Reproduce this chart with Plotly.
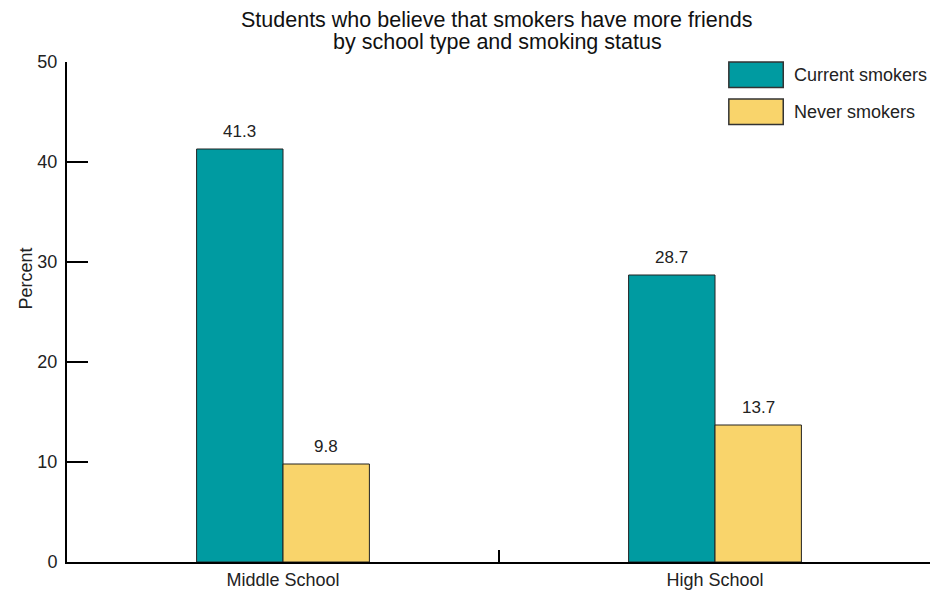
import plotly.graph_objects as go

categories = ["Middle School", "High School"]
series_names = ["Current smokers", "Never smokers"]
current_smokers = [41.3, 28.7]
never_smokers = [9.8, 13.7]
colors = ["#009BA1", "#F9D46B"]
y_ticks = [0, 10, 20, 30, 40, 50]
title_lines = ["Students who believe that smokers have more friends",
               "by school type and smoking status"]

FONT = "Liberation Sans, Arial, sans-serif"
xpos = list(range(len(categories)))
BARGAP = 0.6
n_series = len(series_names)
bar_w = (1 - BARGAP) / n_series

fig = go.Figure()
for s, (name, vals, col) in enumerate(zip(series_names, [current_smokers, never_smokers], colors)):
    fig.add_trace(go.Bar(
        x=xpos, y=vals, name=name,
        marker=dict(color=col, line=dict(color="#222222", width=1)),
        showlegend=False,
    ))
    offset = (s - (n_series - 1) / 2) * bar_w
    for xi, v in zip(xpos, vals):
        fig.add_annotation(x=xi + offset, y=v, text=f"{v:.1f}", xref="x", yref="y",
                           yanchor="bottom", yshift=6, showarrow=False,
                           font=dict(size=17, family=FONT, color="#222222"))

fig.update_layout(
    width=930, height=582,
    margin=dict(l=59, r=7, t=54, b=28),
    paper_bgcolor="white", plot_bgcolor="white",
    barmode="group", bargap=BARGAP, bargroupgap=0,
    font=dict(family=FONT, size=18, color="#222222"),
    xaxis=dict(range=[-0.5, len(categories) - 0.5], tickvals=xpos, ticktext=categories,
               showline=True, linecolor="black", linewidth=2, ticks="",
               showgrid=False, zeroline=False, tickfont=dict(size=18),
               automargin=False),
    yaxis=dict(range=[0, 50], tickvals=y_ticks, ticks="inside", ticklen=21,
               tickwidth=2, tickcolor="black", showline=True, linecolor="black",
               linewidth=2, showgrid=False, zeroline=False, tickfont=dict(size=18),
               ticklabelstandoff=4, automargin=False),
)

# category-boundary tick marks on the x axis (paper coords, not clipped)
n_cat = len(categories)
for i in xpos:
    px = (i + 1) / n_cat
    fig.add_shape(type="line", xref="paper", yref="paper", x0=px, x1=px,
                  y0=-0.002, y1=0.024, line=dict(color="black", width=2))

# title (two lines, tight spacing)
for i, line in enumerate(title_lines):
    fig.add_annotation(text=line, xref="paper", yref="paper", x=0.498,
                       y=1.084 - i * 0.045, xanchor="center", yanchor="middle",
                       showarrow=False, font=dict(size=21.5, family=FONT, color="#111111"))

# y-axis title
fig.add_annotation(text="Percent", xref="paper", yref="paper", x=-0.048, y=0.566,
                   xanchor="center", yanchor="middle", textangle=-90, showarrow=False,
                   font=dict(size=18, family=FONT, color="#222222"))

# custom legend (large swatches)
for i, (name, col) in enumerate(zip(series_names, colors)):
    y0 = 1.0 - i * 0.074
    fig.add_shape(type="rect", xref="paper", yref="paper",
                  x0=0.766, x1=0.829, y0=y0 - 0.051, y1=y0,
                  fillcolor=col, line=dict(color="#333333", width=1.5))
    fig.add_annotation(text=name, xref="paper", yref="paper", x=0.839, y=y0 - 0.026,
                       xanchor="left", yanchor="middle", showarrow=False,
                       font=dict(size=18, family=FONT, color="#222222"))

fig.write_html("out.html")
